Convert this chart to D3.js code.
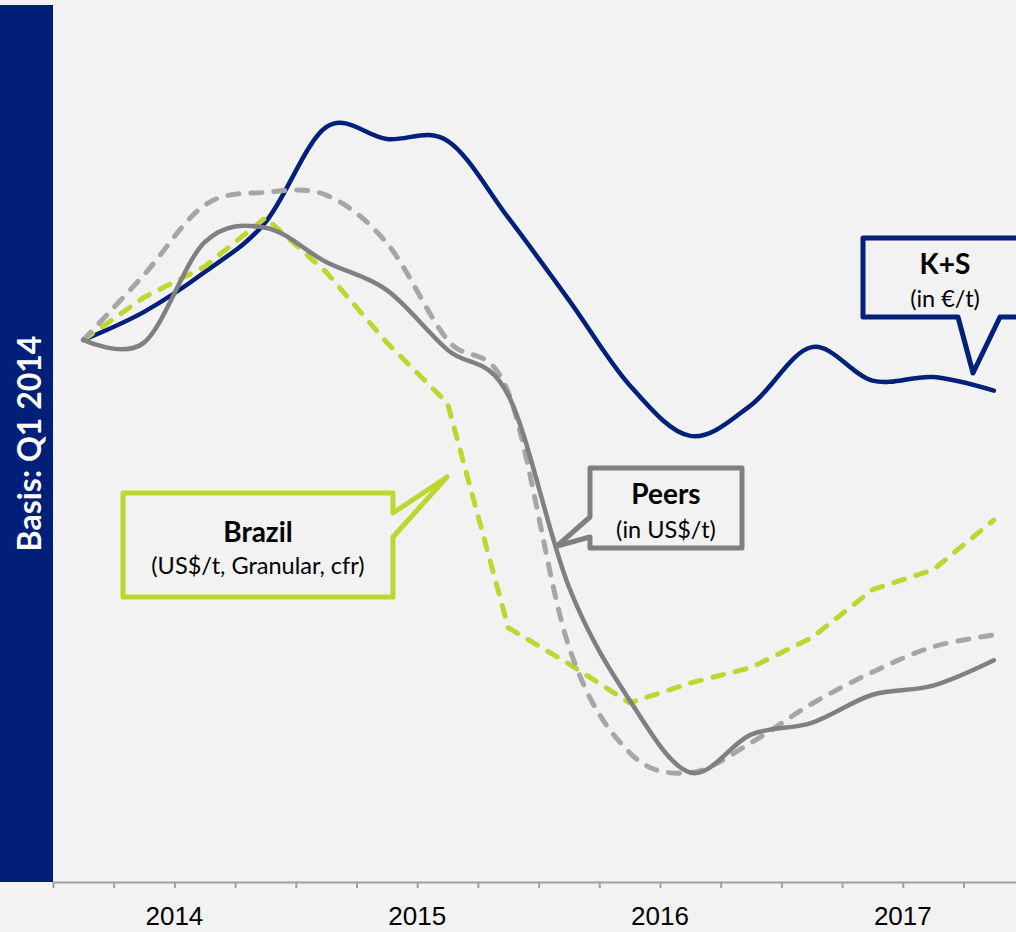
<!DOCTYPE html>
<html lang="de">
<head>
  <meta charset="UTF-8">
  <title>K+S vs Peers vs Brazil</title>
  <script src="https://d3js.org/d3.v7.min.js"></script>
  <style>
    body {
      margin: 0;
      background: #f2f2f2;
    }
    svg { display: block; }
    .series { fill: none; stroke-linejoin: round; stroke-linecap: round; }
    .axis path, .axis line { stroke: #a0a0a0; stroke-width: 2; }
    .year { font: 26px 'Liberation Sans', Arial, sans-serif; fill: #000; }
    .callout { fill: #f2f2f2; stroke-width: 5; stroke-linejoin: round; }
    .c-title { font: bold 28px Lato, 'Noto Sans', sans-serif; fill: #000; text-anchor: middle; }
    .c-sub { font: 23.5px Lato, 'Noto Sans', sans-serif; fill: #000; text-anchor: middle; }
  </style>
</head>
<body>
  <svg width="1016" height="932"></svg>
  <script>
    // quarterly index, basis Q1 2014 = 100
    const quarters = ["Q1 2014", "Q2 2014", "Q3 2014", "Q4 2014",
                      "Q1 2015", "Q2 2015", "Q3 2015", "Q4 2015",
                      "Q1 2016", "Q2 2016", "Q3 2016", "Q4 2016",
                      "Q1 2017", "Q2 2017", "Q3 2017", "Q4 2017"];
    const years = ["2014", "2015", "2016", "2017"];

    const ksValues =     [100.0, 103.1, 107.5, 113.0, 123.5, 122.2, 122.0, 113.5,
                          104.4, 95.0, 89.4, 92.8, 99.2, 95.5, 95.9, 94.4];
    const peersValues =  [100.0, 99.7, 110.8, 112.4, 108.6, 105.5, 98.9, 93.9,
                          72.7, 60.2, 52.2, 56.4, 57.7, 60.8, 61.8, 64.6];
    const peers2Values = [100.0, 107.2, 114.9, 116.3, 116.0, 110.7, 100.0, 94.2,
                          66.1, 54.4, 52.2, 55.5, 59.8, 63.3, 66.1, 67.4];
    const brazilValues = [100.0, 104.7, 108.1, 113.5, 107.5, 99.7, 93.0, 68.2,
                          64.2, 59.9, 62.1, 63.8, 67.1, 72.4, 74.6, 80.1];

    const svg = d3.select("svg");
    const left = 53, axisY = 882, qWidth = 60.7;

    const x = d3.scaleLinear().domain([0, quarters.length]).range([left, left + quarters.length * qWidth]);
    const y = d3.scaleLinear().domain([40, 137]).range([883, 5]);

    // left title bar
    svg.append("rect")
      .attr("x", 0).attr("y", 5)
      .attr("width", left).attr("height", axisY - 5)
      .attr("fill", "#001f78");
    svg.append("text")
      .attr("transform", `translate(28,${(axisY + 5) / 2}) rotate(-90)`)
      .attr("text-anchor", "middle")
      .attr("dominant-baseline", "central")
      .style("font", "bold 32px Lato, 'Noto Sans', sans-serif")
      .attr("fill", "#fff")
      .text("Basis: Q1 2014");

    // axis with quarter ticks
    svg.append("g")
      .attr("class", "axis")
      .attr("transform", `translate(0,${axisY})`)
      .call(d3.axisBottom(x).tickValues(d3.range(quarters.length)).tickSize(6).tickSizeOuter(0).tickFormat(""));

    svg.selectAll(".year")
      .data(years)
      .join("text")
      .attr("class", "year")
      .attr("x", (d, i) => x(i * 4 + 2))
      .attr("y", 925)
      .attr("text-anchor", "middle")
      .text(d => d);

    const smooth = d3.line()
      .x((d, i) => x(i + 0.5))
      .y(d => y(d))
      .curve(d3.curveCatmullRom.alpha(0));
    const straight = d3.line()
      .x((d, i) => x(i + 0.5))
      .y(d => y(d));

    svg.append("path").datum(ksValues)
      .attr("class", "series").attr("d", smooth)
      .attr("stroke", "#00207a").attr("stroke-width", 4.5);

    svg.append("path").datum(brazilValues)
      .attr("class", "series").attr("d", straight)
      .attr("stroke", "#bfd631").attr("stroke-width", 5)
      .attr("stroke-dasharray", "11 12");

    svg.append("path").datum(peers2Values)
      .attr("class", "series").attr("d", smooth)
      .attr("stroke", "#a6a6a6").attr("stroke-width", 5)
      .attr("stroke-dasharray", "11 12");

    svg.append("path").datum(peersValues)
      .attr("class", "series").attr("d", smooth)
      .attr("stroke", "#808080").attr("stroke-width", 4.5);

    // callouts (layout in px)
    const callouts = [
      { color: "#bfd631", title: "Brazil", sub: "(US$/t, Granular, cfr)", cx: 258, ty: 542, sy: 574,
        pts: [[123,493],[393,493],[393,513],[447,477],[393,537],[393,597],[123,597]] },
      { color: "#808080", title: "Peers", sub: "(in US$/t)", cx: 666, ty: 504, sy: 538,
        pts: [[590,468],[742,468],[742,548],[590,548],[590,537],[557,546],[590,517]] },
      { color: "#00207a", title: "K+S", sub: "(in €/t)", cx: 945, ty: 274, sy: 307,
        pts: [[863,238],[1030,238],[1030,317],[1000,317],[973,373],[958,317],[863,317]] }
    ];

    callouts.forEach(c => {
      svg.append("polygon")
        .attr("class", "callout")
        .attr("points", c.pts.map(p => p.join(",")).join(" "))
        .attr("stroke", c.color);
      svg.append("text").attr("class", "c-title").attr("x", c.cx).attr("y", c.ty).text(c.title);
      svg.append("text").attr("class", "c-sub").attr("x", c.cx).attr("y", c.sy).text(c.sub);
    });
  </script>
</body>
</html>
